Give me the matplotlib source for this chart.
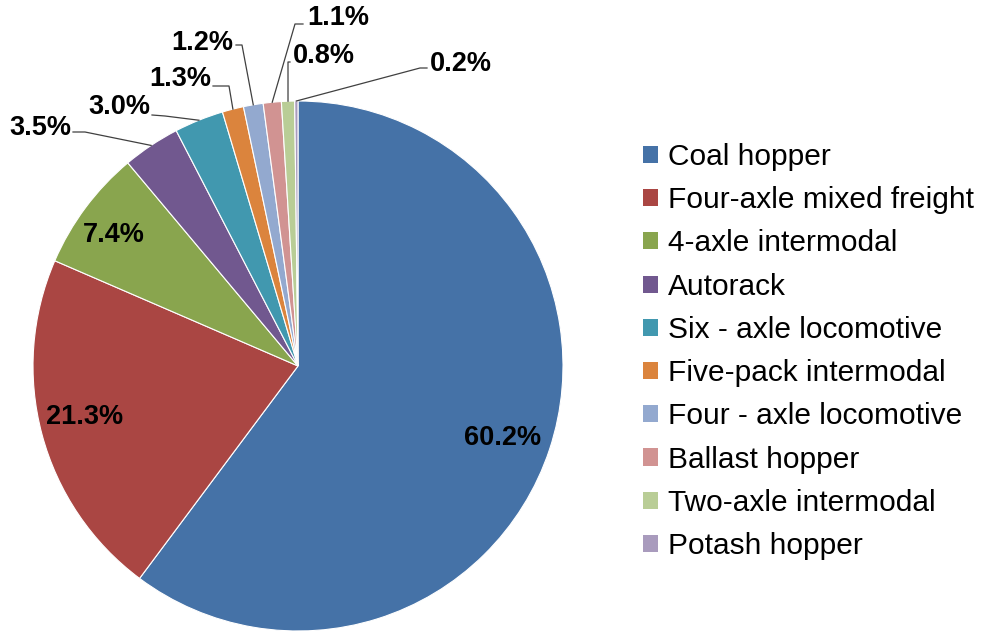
import numpy as np
import matplotlib.pyplot as plt
from matplotlib.patches import Patch

plt.rcParams["font.family"] = ["Liberation Sans", "DejaVu Sans"]

CATEGORIES = [
    "Coal hopper", "Four-axle mixed freight", "4-axle intermodal", "Autorack",
    "Six - axle locomotive", "Five-pack intermodal", "Four - axle locomotive",
    "Ballast hopper", "Two-axle intermodal", "Potash hopper",
]
SHARES = [60.2, 21.3, 7.4, 3.5, 3.0, 1.3, 1.2, 1.1, 0.8, 0.2]
COLORS = ["#4572A7", "#AA4643", "#89A54E", "#71588F", "#4198AF",
          "#DB843D", "#93A9CF", "#D19392", "#B9CD96", "#A99BBD"]

W, H = 982, 634
CX, CY, R = 298, 366, 265  # pie centre / radius in pixels


def px(x, y):
    """pixel position (from top-left) -> pie data coords"""
    return (x - CX) / R, (CY - y) / R


# inside labels: text centre in pixels
INSIDE = {0: (503, 438), 1: (85, 417), 2: (114, 235)}
# outside labels: text anchor (x, y, ha), line start, elbow
OUTSIDE = {
    3: ((71, 128, "right"), (73, 132), (85, 132)),
    4: ((150, 107, "right"), (152, 115), (165, 116)),
    5: ((211, 79, "right"), (213, 86), (229, 86)),
    6: ((233, 43, "right"), (236, 45), (242, 45)),
    7: ((307, 18, "left"), (303, 24), (295, 24)),
    8: ((293, 56, "left"), (290, 62), (288, 62)),
    9: ((430, 64, "left"), (427, 68), (420, 68)),
}

fig = plt.figure(figsize=(W / 100, H / 100), dpi=100)
ax = fig.add_axes([(CX - R) / W, (H - CY - R) / H, 2 * R / W, 2 * R / H])

wedges, _ = ax.pie(SHARES, colors=COLORS, startangle=90, counterclock=False,
                   radius=1, wedgeprops=dict(edgecolor="white", linewidth=0.8))
ax.set_xlim(-1, 1)
ax.set_ylim(-1, 1)
ax.set_aspect("equal")
ax.axis("off")

label_kw = dict(fontsize=19.5, fontweight="bold", color="black", va="center")
for i, w in enumerate(wedges):
    txt = f"{SHARES[i]:.1f}%"
    if i in INSIDE:
        ax.text(*px(*INSIDE[i]), txt, ha="center", **label_kw)
        continue
    (tx, ty, ha), start, elbow = OUTSIDE[i]
    ax.text(*px(tx, ty), txt, ha=ha, clip_on=False, **label_kw)
    mid = np.deg2rad((w.theta1 + w.theta2) / 2)
    end = (np.cos(mid), np.sin(mid))
    sx, sy = px(*start)
    ex, ey = px(*elbow)
    ax.plot([sx, ex, end[0]], [sy, ey, end[1]], color="#404040", lw=0.9,
            clip_on=False)

handles = [Patch(facecolor=c, edgecolor="none") for c in COLORS]
fig.legend(handles, CATEGORIES, loc="upper left",
           bbox_to_anchor=(643 / W, (H - 143) / H), frameon=False,
           fontsize=21.5, handlelength=0.5, handleheight=0.5,
           handletextpad=0.33, labelspacing=0.51, borderpad=0,
           borderaxespad=0)

fig.savefig("out.png", dpi=100, facecolor="white")
